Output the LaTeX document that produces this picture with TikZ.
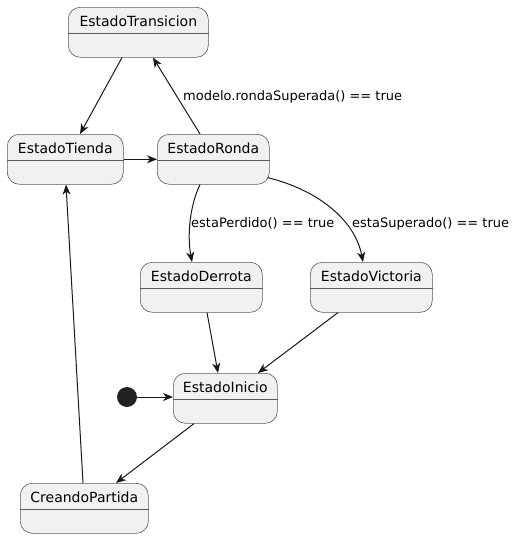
\documentclass[tikz,border=0pt]{standalone}
\usepackage{fontspec}
\setmainfont{DejaVu Sans}
\usetikzlibrary{arrows.meta,calc}
\definecolor{sfill}{HTML}{F1F1F1}
\definecolor{sline}{HTML}{181818}
\definecolor{sborder}{HTML}{5A5A5A}
\definecolor{sdot}{HTML}{222222}
\newcommand\mkstate[5]{%
  \node[statebox, minimum width=#4pt] (#1) at (#2,#3) {};
  \draw[sepline] ($(#1.north west)+(0,26)$) -- ($(#1.north east)+(0,26)$);
  \node[titletext] (#1t) at ($(#1.north)+(0,19)$) {#5};
}
\begin{document}
\begin{tikzpicture}[x=1pt,y=-1pt,
  statebox/.style={draw=sborder, fill=sfill, rounded corners=12pt, line width=0.6pt, minimum height=50pt, inner sep=0pt, anchor=north west},
  sepline/.style={draw=sborder, line width=0.6pt},
  titletext/.style={font=\fontsize{14}{16}\selectfont, anchor=base, inner sep=0pt, text=black},
  lbl/.style={font=\fontsize{13}{15}\selectfont, anchor=base west, inner sep=0pt, text=black},
  tr/.style={draw=sline, line width=1pt, -{Stealth[length=10pt,width=8pt,inset=3pt]}}]
\useasboundingbox (0,0) rectangle (515,538);
\mkstate{trans}{68}{7}{140}{EstadoTransicion}
\mkstate{tienda}{7}{134}{116}{EstadoTienda}
\mkstate{ronda}{157}{134}{112}{EstadoRonda}
\mkstate{derrota}{140}{262}{122}{EstadoDerrota}
\mkstate{victoria}{310}{262}{122}{EstadoVictoria}
\mkstate{inicio}{173}{373}{104}{EstadoInicio}
\mkstate{creando}{20}{483}{128}{CreandoPartida}
\node[circle, fill=sdot, minimum size=20pt, inner sep=0pt] (init) at (127,397) {};

\draw[tr] ($(trans.south west)+(54,0)$) -- ($(tienda.north west)+(73,0)$);
\draw[tr] ($(ronda.north west)+(43,0)$) -- ($(trans.south west)+(85,0)$);
\node[lbl] (l1) at (183,100) {modelo.rondaSuperada() == true};
\draw[tr] (tienda.east) -- (ronda.west);
\draw[tr] ($(ronda.south west)+(43,0)$) .. controls (190,205) and (187,235) .. ($(derrota.north west)+(52,0)$);
\node[lbl] (l2) at (191,227) {estaPerdido() == true};
\draw[tr] ($(ronda.south east)+(-2,-7)$) .. controls (318,190) and (355,220) .. ($(victoria.north west)+(53,0)$);
\node[lbl] (l3) at (352,227) {estaSuperado() == true};
\draw[tr] ($(derrota.south west)+(67,0)$) -- ($(inicio.north west)+(45,0)$);
\draw[tr] ($(victoria.south west)+(28,0)$) -- ($(inicio.north west)+(85,0)$);
\draw[tr] (init.east) -- (inicio.west |- init.east);
\draw[tr] ($(inicio.south west)+(21,0)$) -- ($(creando.north west)+(96,0)$);
\draw[tr] ($(creando.north west)+(63,0)$) -- ($(tienda.south west)+(59,0)$);
\end{tikzpicture}
\end{document}
